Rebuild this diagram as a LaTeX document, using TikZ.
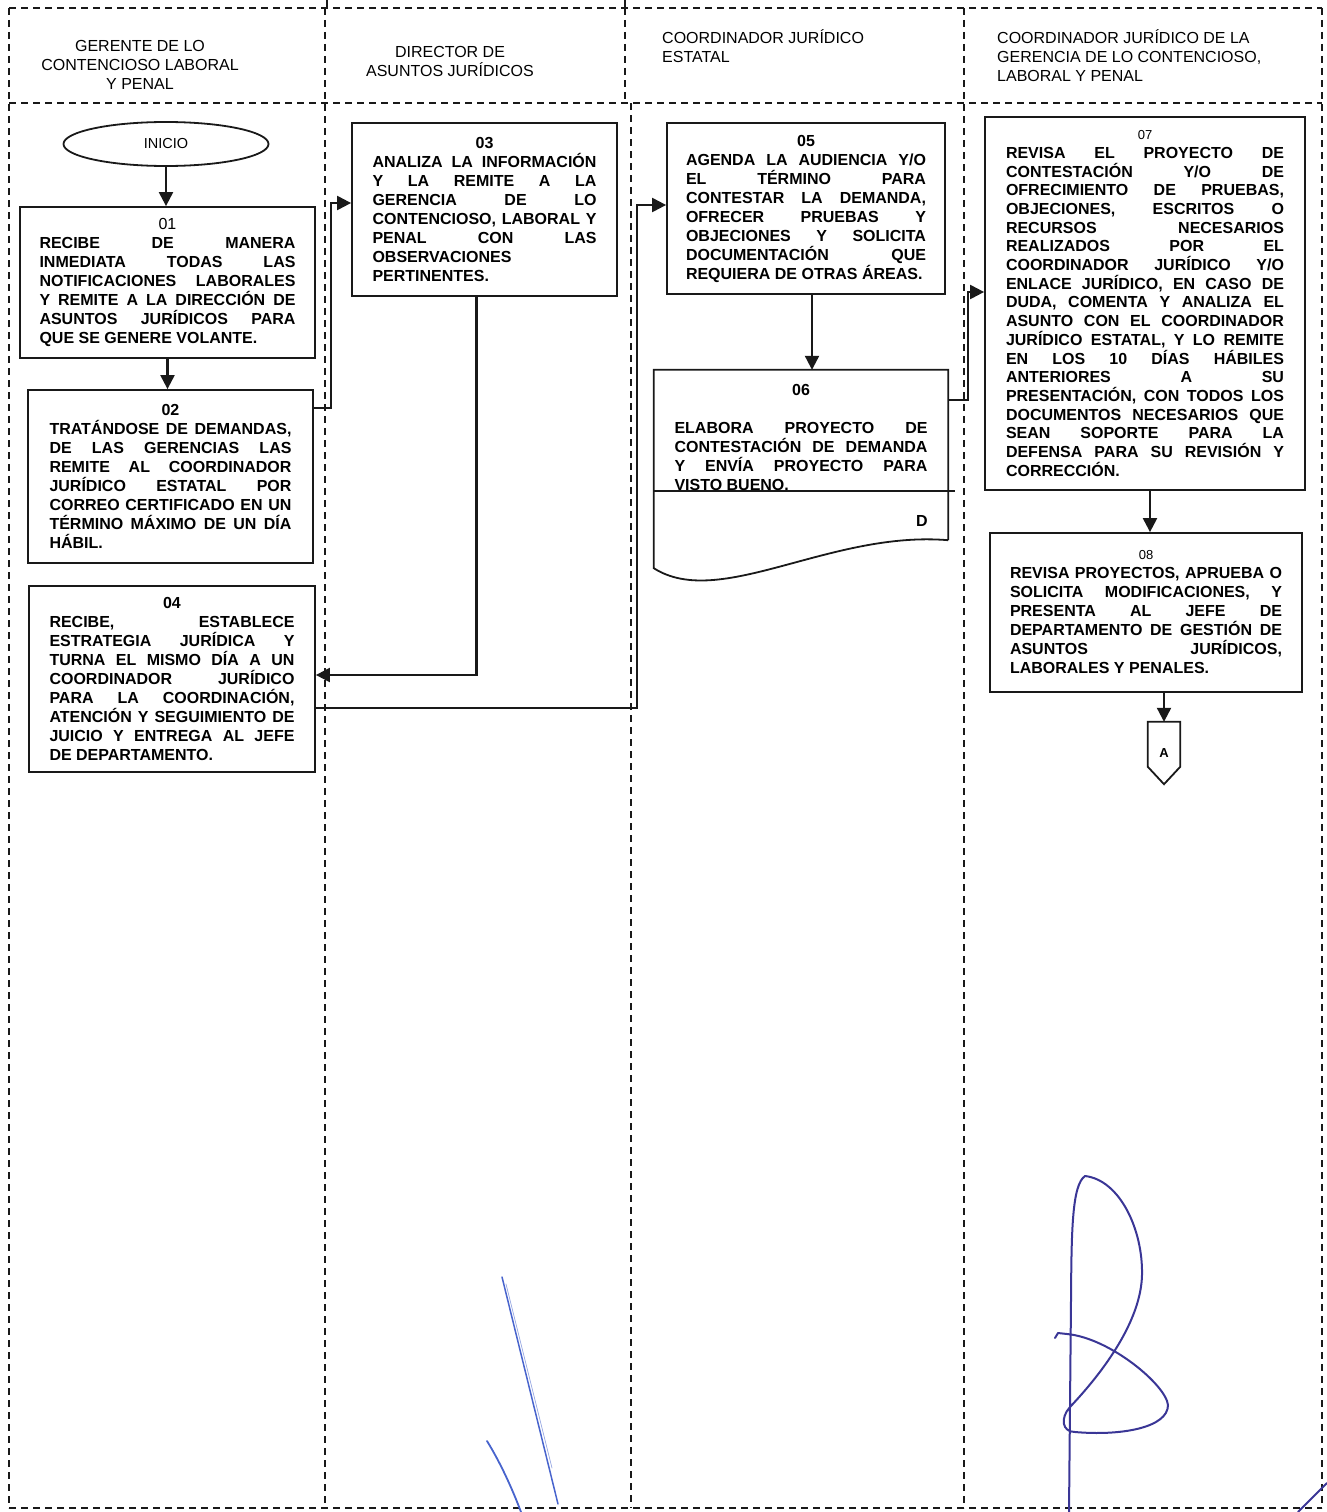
\documentclass[tikz,border=0pt]{standalone}
\usepackage{fontspec}
\setmainfont{Liberation Sans}
\usetikzlibrary{arrows.meta,shapes.geometric,calc}
\setlength{\parindent}{0pt}
\tolerance=10000 \pretolerance=-1 \hyphenpenalty=10000 \exhyphenpenalty=10000 \hbadness=10000
\definecolor{linec}{RGB}{25,25,25}
\definecolor{inkdark}{RGB}{58,54,150}
\definecolor{inklight}{RGB}{72,100,205}
% centred step number on its own line of a justified paragraph
\newcommand{\stepno}[1]{\hfil{#1}\hfil\null\linebreak}
\begin{document}
\begin{tikzpicture}[x=1pt,y=-1pt,
  lane/.style={draw=linec, line width=1.4pt, dash pattern=on 7pt off 5pt},
  stepbox/.style={draw=linec, line width=1.8pt, rectangle, inner sep=0pt, align=justify,
     font=\fontsize{16}{19}\selectfont\bfseries},
  steptext/.style={inner sep=0pt, align=justify, font=\fontsize{16}{19}\selectfont\bfseries},
  head/.style={inner sep=0pt, font=\fontsize{16}{19}\selectfont},
  arr/.style={draw=linec, line width=2.2pt, -{Triangle[length=14pt,width=14pt]}},
  shape line/.style={draw=linec, line width=1.8pt},
  sig/.style={line width=2pt, line cap=round, line join=round}
]
\useasboundingbox (0,0) rectangle (1327,1512);

% swimlane frame
\draw[lane] (9,8) -- (1322,8);
\draw[lane] (9,103) -- (1322,103);
\draw[lane] (9,1508) -- (1322,1508);
\draw[lane] (9,8) -- (9,1508);
\draw[lane] (325,8) -- (325,1508);
\draw[lane] (625,8) -- (625,103);
\draw[lane] (631,103) -- (631,1508);
\draw[lane] (964,8) -- (964,1508);
\draw[lane] (1322,8) -- (1322,1508);
\draw[draw=linec, line width=1.4pt] (327,0) -- (327,8);
\draw[draw=linec, line width=1.4pt] (625,0) -- (625,10);

% lane headings
\node[head, align=center] (h1) at (140,65) {GERENTE DE LO\\CONTENCIOSO LABORAL\\Y PENAL};
\node[head, align=center] (h2) at (450,61.5) {DIRECTOR DE\\ASUNTOS JURÍDICOS};
\node[head, align=left, anchor=west] (h3) at (662,46.5) {COORDINADOR JURÍDICO\\ESTATAL};
\node[head, align=left, anchor=west] (h4) at (997,56) {COORDINADOR JURÍDICO DE LA\\GERENCIA DE LO CONTENCIOSO,\\LABORAL Y PENAL};

% start
\node[draw=linec, line width=1.8pt, ellipse, minimum width=205pt, minimum height=44pt,
  inner sep=0pt, font=\fontsize{14.5}{16}\selectfont] (ini) at (166,144) {INICIO};

% steps
\node[stepbox, minimum width=295pt, minimum height=151pt, text width=256pt] (s01) at (167.5,282.5)
 {\stepno{\mdseries 01}RECIBE DE MANERA\linebreak INMEDIATA TODAS LAS\linebreak NOTIFICACIONES LABORALES\linebreak Y REMITE A LA DIRECCIÓN DE\linebreak ASUNTOS JURÍDICOS PARA\linebreak QUE SE GENERE VOLANTE.};

\node[stepbox, minimum width=285pt, minimum height=173pt, text width=242pt] (s02) at (170.5,476.5)
 {\stepno{02}TRATÁNDOSE DE DEMANDAS,\linebreak DE LAS GERENCIAS LAS\linebreak REMITE AL COORDINADOR\linebreak JURÍDICO ESTATAL POR\linebreak CORREO CERTIFICADO EN UN\linebreak TÉRMINO MÁXIMO DE UN DÍA\linebreak HÁBIL.};

\node[stepbox, minimum width=286pt, minimum height=186pt, text width=245pt] (s04) at (172,679)
 {\stepno{04}RECIBE, ESTABLECE\linebreak ESTRATEGIA JURÍDICA Y\linebreak TURNA EL MISMO DÍA A UN\linebreak COORDINADOR JURÍDICO\linebreak PARA LA COORDINACIÓN,\linebreak ATENCIÓN Y SEGUIMIENTO DE\linebreak JUICIO Y ENTREGA AL JEFE\linebreak DE DEPARTAMENTO.};

\node[stepbox, minimum width=265pt, minimum height=173pt, text width=224pt] (s03) at (484.5,209.5)
 {\stepno{03}ANALIZA LA INFORMACIÓN\linebreak Y LA REMITE A LA\linebreak GERENCIA DE LO\linebreak CONTENCIOSO, LABORAL Y\linebreak PENAL CON LAS\linebreak OBSERVACIONES\linebreak PERTINENTES.};

\node[stepbox, minimum width=278pt, minimum height=171pt, text width=240pt] (s05) at (806,208.5)
 {\stepno{05}AGENDA LA AUDIENCIA Y/O\linebreak EL TÉRMINO PARA\linebreak CONTESTAR LA DEMANDA,\linebreak OFRECER PRUEBAS Y\linebreak OBJECIONES Y SOLICITA\linebreak DOCUMENTACIÓN QUE\linebreak REQUIERA DE OTRAS ÁREAS.};

% step 06: document symbol
\node[inner sep=0pt, minimum width=294pt, minimum height=170pt] (s06) at (801,455) {};
\draw[shape line] (s06.south east) -- (s06.north east) -- (s06.north west) -- ($(s06.south west)+(0,28)$)
  .. controls ($(s06.south west)+(66,70)$) and ($(s06.south west)+(176,-10)$) .. (s06.south east);
\draw[draw=linec, line width=1.5pt] ($(s06.west)+(0,36)$) -- ($(s06.east)+(7,36)$);
\node[steptext, text width=253pt, anchor=north] (t06) at (801,384)
 {\stepno{06}\null\linebreak ELABORA PROYECTO DE\linebreak CONTESTACIÓN DE DEMANDA\linebreak Y ENVÍA PROYECTO PARA\linebreak VISTO BUENO.};
\node[inner sep=0pt, font=\fontsize{16}{19}\selectfont\bfseries] (dlab) at (922,521) {D};

\node[stepbox, minimum width=320pt, minimum height=373pt, text width=278pt,
  font=\fontsize{16}{18.7}\selectfont\bfseries] (s07) at (1145,303.5)
 {\stepno{\mdseries\fontsize{13}{15}\selectfont 07}REVISA EL PROYECTO DE\linebreak CONTESTACIÓN Y/O DE\linebreak OFRECIMIENTO DE PRUEBAS,\linebreak OBJECIONES, ESCRITOS O\linebreak RECURSOS NECESARIOS\linebreak REALIZADOS POR EL\linebreak COORDINADOR JURÍDICO Y/O\linebreak ENLACE JURÍDICO, EN CASO DE\linebreak DUDA, COMENTA Y ANALIZA EL\linebreak ASUNTO CON EL COORDINADOR\linebreak JURÍDICO ESTATAL, Y LO REMITE\linebreak EN LOS 10 DÍAS HÁBILES\linebreak ANTERIORES A SU\linebreak PRESENTACIÓN, CON TODOS LOS\linebreak DOCUMENTOS NECESARIOS QUE\linebreak SEAN SOPORTE PARA LA\linebreak DEFENSA PARA SU REVISIÓN Y\linebreak CORRECCIÓN.};

\node[stepbox, minimum width=312pt, minimum height=159pt, text width=272pt] (s08) at (1146,612.5)
 {\stepno{\mdseries\fontsize{13}{15}\selectfont 08}REVISA PROYECTOS, APRUEBA O\linebreak SOLICITA MODIFICACIONES, Y\linebreak PRESENTA AL JEFE DE\linebreak DEPARTAMENTO DE GESTIÓN DE\linebreak ASUNTOS JURÍDICOS,\linebreak LABORALES Y PENALES.};

% off-page connector
\node[inner sep=0pt, minimum width=32pt, minimum height=62pt,
  font=\fontsize{13}{15}\selectfont\bfseries] (conA) at (1164,753) {\raisebox{-4pt}{A}};
\draw[shape line] (conA.north west) -- (conA.north east) -- ($(conA.north east)+(0,45)$)
  -- (conA.south) -- ($(conA.north west)+(0,45)$) -- cycle;

% flow
\draw[arr] (ini.south) -- (ini.south |- s01.north);
\draw[arr] (s01.south) -- (s01.south |- s02.north);
\draw[arr] ($(s02.north east)+(0,19)$) -- ++(17,0) |- ($(s03.west)+(0,-6.5)$);
\draw[arr] ($(s03.south)+(-8,0)$) |- ($(s04.east)+(0,-4)$);
\draw[arr] ($(s04.east)+(0,29)$) -- ++(321,0) |- ($(s05.west)+(0,-3.5)$);
\coordinate (j56) at ($(s05.south)+(6,0)$);
\draw[arr] (j56) -- (j56 |- s06.north);
\draw[arr] ($(s06.north east)+(0,30)$) -- ++(20,0) |- ($(s07.west)+(0,-11.5)$);
\coordinate (j78) at ($(s07.south)+(5,0)$);
\draw[arr] (j78) -- (j78 |- s08.north);
\draw[arr] (conA.north |- s08.south) -- (conA.north);

% signatures
\draw[sig, draw=inklight, line width=1.5pt] (502,1277) -- (558,1504);
\draw[sig, draw=inklight, line width=0.7pt, opacity=0.6] (506,1284) -- (552,1468);
\draw[sig, draw=inklight, line width=1.8pt] (487,1441) .. controls (500,1462) and (512,1488) .. (521,1512);
\draw[sig, draw=inkdark] (1069,1512) -- (1071,1300)
  .. controls (1071.5,1230) and (1072,1185) .. (1085,1176)
  .. controls (1120,1180) and (1143,1230) .. (1142,1275)
  .. controls (1141,1320) and (1105,1370) .. (1070,1407)
  .. controls (1060,1418) and (1062,1432) .. (1075,1432)
  .. controls (1120,1436) and (1168,1428) .. (1168,1405)
  .. controls (1166,1385) and (1110,1338) .. (1067,1334)
  -- (1058,1333) -- (1055,1338);
\draw[sig, draw=inkdark] (1298,1512) -- (1327,1483);
\end{tikzpicture}
\end{document}
